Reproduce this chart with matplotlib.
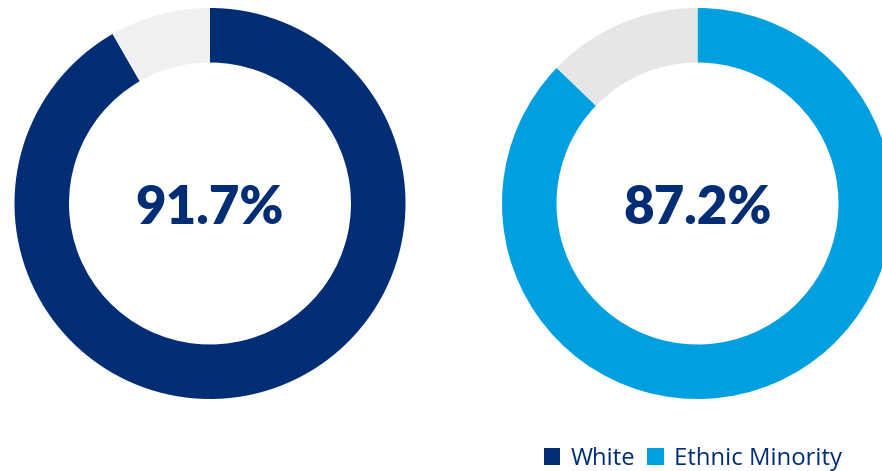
import matplotlib.pyplot as plt

groups = ["White", "Ethnic Minority"]
shares = [91.7, 87.2]
colors = ["#002D74", "#009FDF"]
rest_colors = ["#F0F0F0", "#E6E6E6"]
navy = "#002D74"

fig = plt.figure(figsize=(8.82, 4.71), dpi=100)
ax = fig.add_axes([0, 0, 1, 1])

centers = [(210, 267.5), (697.5, 267.5)]
radius = 195.5
ring = 54.5

wedges = []
for (cx, cy), share, col, rest in zip(centers, shares, colors, rest_colors):
    w, _ = ax.pie([share, 100 - share], colors=[col, rest], startangle=90,
                  counterclock=False, radius=radius, center=(cx, cy),
                  wedgeprops=dict(width=ring, linewidth=0), frame=True)
    wedges.append(w[0])
    ax.text(cx, cy - 5, f"{share}%", ha="center", va="center",
            fontsize=38, fontweight="heavy", family="Lato", color=navy)

ax.set_xlim(0, 882)
ax.set_ylim(0, 471)
ax.set_aspect("equal")
ax.axis("off")

leg = ax.legend(wedges, groups, ncol=2, frameon=False, loc="lower right",
                bbox_to_anchor=(0.966, -0.02), prop=dict(family="Open Sans", size=17.2),
                handlelength=0.68, handleheight=0.68, handletextpad=0.45,
                columnspacing=0.5, borderaxespad=0)
for t in leg.get_texts():
    t.set_color(navy)

fig.savefig("out.png", dpi=100)
